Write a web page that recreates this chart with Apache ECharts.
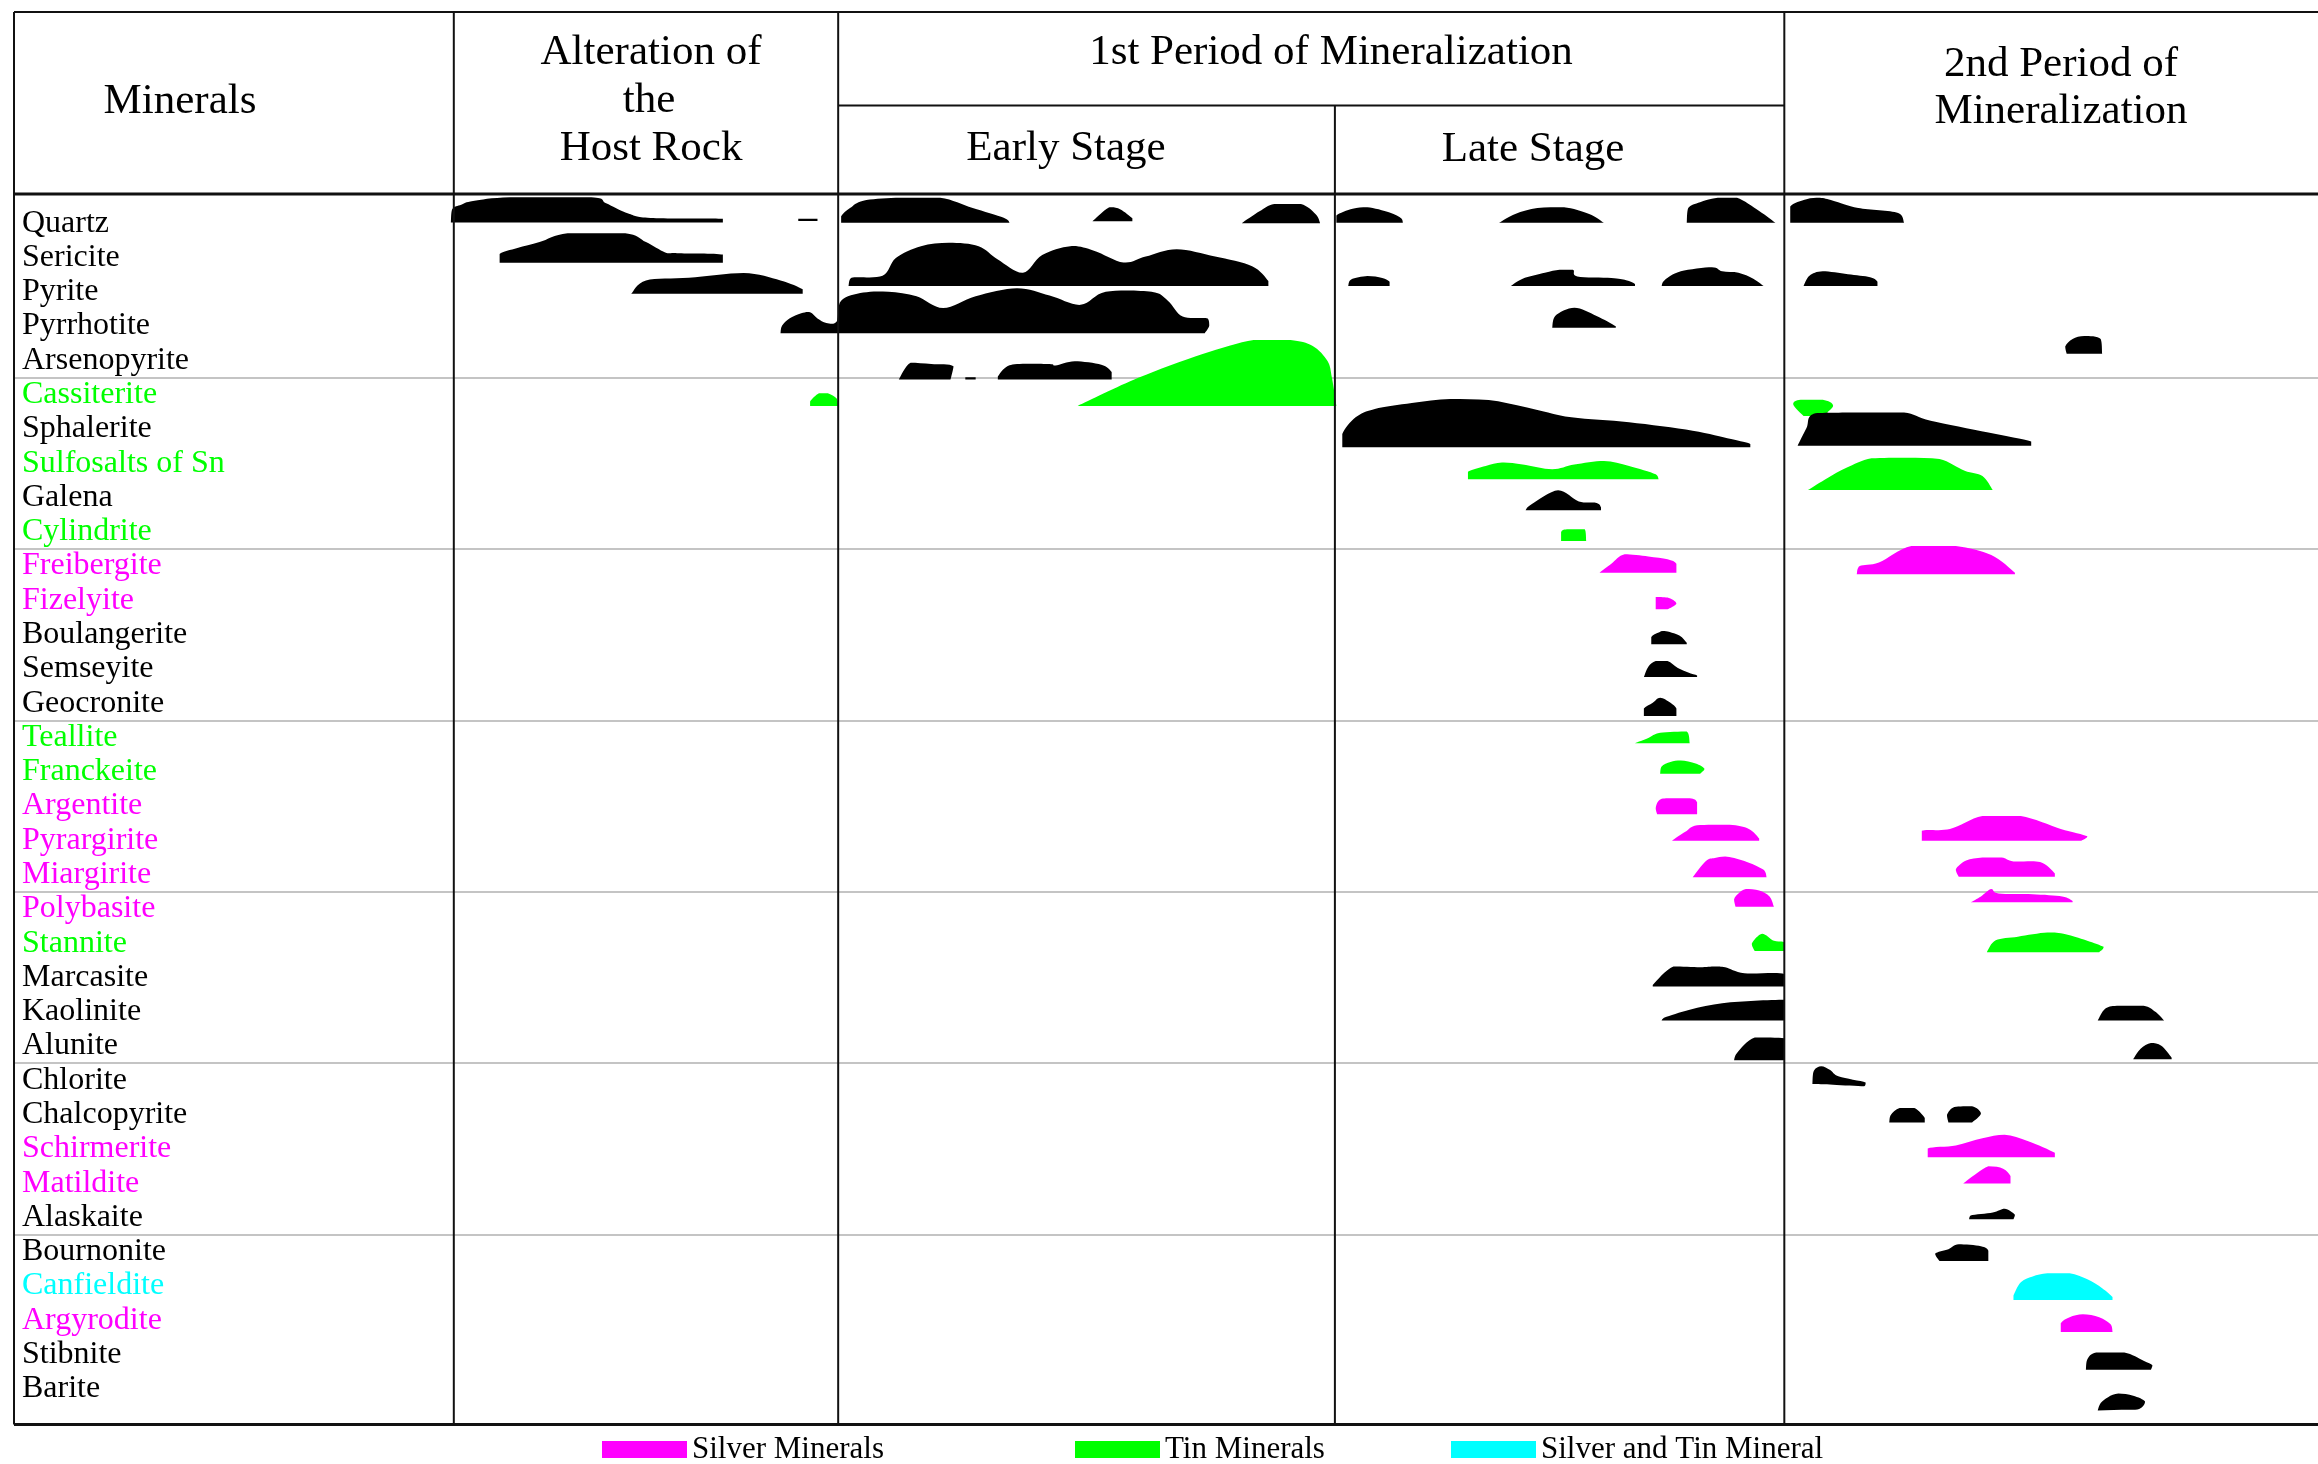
<!DOCTYPE html>
<html>
<head>
<meta charset="utf-8">
<title>Paragenetic sequence</title>
<script src="https://cdn.jsdelivr.net/npm/echarts@6/dist/echarts.min.js"></script>
<style>
  html, body { margin: 0; padding: 0; background: #fff; }
  #chart { width: 2318px; height: 1464px; }
</style>
</head>
<body>
<div id="chart"></div>
<script>
const FONT = '"Liberation Serif", "DejaVu Serif", serif';

// rows of the table
const minerals = ['Quartz', 'Sericite', 'Pyrite', 'Pyrrhotite', 'Arsenopyrite',
  'Cassiterite', 'Sphalerite', 'Sulfosalts of Sn', 'Galena', 'Cylindrite',
  'Freibergite', 'Fizelyite', 'Boulangerite', 'Semseyite', 'Geocronite',
  'Teallite', 'Franckeite', 'Argentite', 'Pyrargirite', 'Miargirite',
  'Polybasite', 'Stannite', 'Marcasite', 'Kaolinite', 'Alunite',
  'Chlorite', 'Chalcopyrite', 'Schirmerite', 'Matildite', 'Alaskaite',
  'Bournonite', 'Canfieldite', 'Argyrodite', 'Stibnite', 'Barite']
const silverMinerals = ['Freibergite', 'Fizelyite', 'Argentite', 'Pyrargirite', 'Miargirite',
  'Polybasite', 'Schirmerite', 'Matildite', 'Argyrodite']
const tinMinerals = ['Cassiterite', 'Sulfosalts of Sn', 'Cylindrite', 'Teallite', 'Franckeite', 'Stannite']
const silverTinMinerals = ['Canfieldite']

// relative time axis, stage boundaries on it
const timeRange = [9.5, 1568]
const stageEdges = [307, 567, 903, 1207]

// one row is 23.2 abundance units
const ROW_UNITS = 23.2

// blobs: [mineral, baseline shift, profile [time, abundance]]
const alterationBlobs = [
  ['Quartz', -0.5, [[305, 0], [306, 9], [312, 12], [320, 14.5], [345, 17], [400, 17], [410, 13], [425, 6], [440, 3], [489, 2.5], [489, 0]]],
  ['Quartz', -1.4, [[540, 0], [540, 1.6], [553, 1.6], [553, 0]]],
  ['Sericite', 3.6, [[338, 0], [338, 6], [350, 10], [365, 14], [384, 20], [423, 20], [437, 14], [450, 7], [458, 6.5], [489, 5.5], [489, 0]]],
  ['Pyrite', 1.4, [[427, 0], [437, 9], [466, 10.8], [503, 14], [528, 9], [543, 3], [543, 0]]],
  ['Pyrrhotite', 4.9, [[528, 0], [529, 5], [534, 10], [542, 13.5], [548, 14.2], [553, 10], [559, 7], [566, 8], [569, 22], [584, 27.5], [601, 28], [620, 25], [638, 17], [660, 25], [688, 30.4], [710, 25.5], [731, 19.2], [748, 28], [779, 28], [790, 22], [800, 11.3], [817, 10], [818, 5], [815, 0]]],
  ['Cassiterite', 7.7, [[548, 0], [548, 3], [554, 8.6], [560, 8.6], [566, 5], [567, 0]]]
]

const earlyBlobs = [
  ['Quartz', -0.2, [[569, 0], [569, 4.5], [575, 10], [584, 15], [606, 17], [636, 17], [658, 10], [679, 3.4], [683, 0]]],
  ['Quartz', -1.3, [[739, 0], [748, 8], [752, 9.5], [758, 8], [766, 2], [766, 0]]],
  ['Quartz', 0, [[840, 0], [852, 8], [862, 13], [880, 13], [890, 6], [893, 0]]],
  ['Pyrite', -3.8, [[574, 0], [576, 5.6], [597, 7], [606, 19], [623, 27], [642, 29.3], [662, 27], [675, 18], [692, 9], [705, 21], [724, 27], [740, 24], [760, 16], [775, 20], [796, 25], [822, 20], [847, 13.5], [858, 3.4], [858, 0]]],
  ['Arsenopyrite', 13, [[608, 0], [616, 11.3], [630, 10.5], [645, 9], [643, 0]]],
  ['Arsenopyrite', 13, [[653, 0], [653, 1.5], [660, 1.5], [660, 0]]],
  ['Arsenopyrite', 13, [[675, 0], [675, 2], [680, 8], [688, 10.5], [710, 10.5], [714, 9.5], [727, 12.4], [745, 10], [752, 5], [752, 0]]],
  ['Cassiterite', 7.7, [[729, 0], [770, 19], [813, 35], [848, 44.7], [873, 44.7], [888, 40.6], [898, 30.4], [901, 19], [904, 0]]]
]

const lateBlobs = [
  ['Quartz', -0.2, [[904, 0], [904, 5], [915, 9.5], [925, 10.5], [940, 7], [948, 3], [949, 0]]],
  ['Quartz', -0.2, [[1014, 0], [1025, 6], [1040, 10], [1058, 10.5], [1075, 6], [1085, 0]]],
  ['Quartz', -0.2, [[1141, 0], [1142, 10], [1150, 14], [1162, 17], [1175, 17], [1190, 8], [1201, 0]]],
  ['Pyrite', -3.8, [[912, 0], [914, 4.5], [925, 6.8], [935, 5.5], [940, 3], [940, 0]]],
  ['Pyrite', -3.8, [[1022, 0], [1030, 5], [1045, 9], [1055, 11], [1064, 11], [1067, 6.5], [1090, 5.5], [1100, 4], [1106, 1.5], [1106, 0]]],
  ['Pyrite', -3.8, [[1124, 0], [1126, 4], [1137, 10], [1158, 12.8], [1165, 10], [1176, 9], [1186, 5], [1193, 0]]],
  ['Pyrrhotite', 1.2, [[1050, 0], [1052, 8], [1065, 13.5], [1080, 8], [1093, 1], [1093, 0]]],
  ['Sphalerite', 12.5, [[908, 0], [908, 9], [917, 20.3], [930, 26], [955, 30], [981, 32.7], [1007, 32], [1033, 27], [1063, 20.3], [1102, 17], [1145, 11.3], [1171, 5.6], [1184, 2.3], [1184, 0]]],
  ['Sulfosalts of Sn', 10.9, [[993, 0], [993, 5], [1005, 9], [1016, 11.3], [1030, 10], [1050, 6.8], [1065, 10], [1085, 12.4], [1102, 9], [1120, 3.4], [1122, 0]]],
  ['Galena', 8.7, [[1032, 0], [1036, 4], [1054, 13.5], [1068, 6], [1080, 5], [1083, 2], [1083, 0]]],
  ['Cylindrite', 6.3, [[1056, 0], [1056, 6], [1060, 7.9], [1072, 7.9], [1073, 0]]],
  ['Freibergite', 4.5, [[1082, 0], [1090, 6], [1099, 12.4], [1115, 11], [1128, 9], [1134, 6], [1134, 0]]],
  ['Fizelyite', 6.1, [[1120, 0], [1120, 8.4], [1128, 8], [1134, 4], [1128, 0]]],
  ['Boulangerite', 6.6, [[1117, 0], [1117, 5], [1122, 8], [1126, 9], [1136, 6], [1141, 1], [1141, 0]]],
  ['Semseyite', 5.5, [[1112, 0], [1115, 7], [1120, 10.8], [1128, 10.8], [1135, 6], [1142, 3], [1148, 1], [1148, 0]]],
  ['Geocronite', 8.7, [[1112, 0], [1112, 5], [1118, 9], [1123, 12.4], [1130, 9], [1134, 5], [1134, 0]]],
  ['Teallite', 3.9, [[1106, 0], [1115, 3.5], [1123, 7], [1141, 7.9], [1143, 0]]],
  ['Franckeite', 1.4, [[1123, 0], [1124, 5], [1130, 8], [1137, 9], [1147, 7], [1153, 3.4], [1150, 0]]],
  ['Argentite', 5.5, [[1121, 0], [1120, 4], [1122, 9], [1127, 10.8], [1143, 10.8], [1148, 8], [1148, 0]]],
  ['Pyrargirite', 0.3, [[1131, 0], [1140, 6], [1148, 10.5], [1170, 10.8], [1183, 8], [1190, 1.5], [1190, 0]]],
  ['Miargirite', 1.8, [[1145, 0], [1154, 11], [1160, 13], [1167, 14], [1180, 11], [1193, 5], [1195, 0]]],
  ['Polybasite', -1.4, [[1174, 0], [1173, 5], [1176, 9], [1181, 12], [1190, 11], [1197, 7], [1200, 0]]],
  ['Stannite', 5.4, [[1187, 0], [1185, 5], [1192, 11.8], [1200, 7], [1207, 6], [1207, 0]]],
  ['Marcasite', 6.1, [[1118, 0], [1118, 1], [1132, 13.5], [1150, 13], [1160, 13.5], [1167, 13], [1180, 9], [1207, 8.5], [1207, 0]]],
  ['Kaolinite', 5.9, [[1124, 0], [1126, 2], [1143, 7.3], [1165, 11.6], [1187, 13.3], [1207, 14], [1207, 0]]],
  ['Alunite', 9.7, [[1173, 0], [1175, 5], [1187, 15.5], [1207, 15], [1207, 0]]]
]

const secondPeriodBlobs = [
  ['Quartz', -0.2, [[1211, 0], [1211, 11], [1222, 16], [1231, 17], [1240, 15], [1257, 10], [1284, 6.7], [1288, 0]]],
  ['Pyrite', -3.8, [[1220, 0], [1224, 7], [1233, 10], [1250, 8], [1265, 6], [1270, 3], [1270, 0]]],
  ['Arsenopyrite', -4.4, [[1398, 0], [1397, 5], [1402, 10], [1410, 12], [1421, 10], [1422, 0]]],
  ['Cassiterite', 14.5, [[1220, 0], [1213, 8], [1218, 11], [1233, 11], [1240, 7], [1233, 0]]],
  ['Sphalerite', 11.5, [[1216, 0], [1222, 12], [1228, 22], [1262, 22.5], [1288, 22.5], [1306, 17], [1345, 9], [1374, 3], [1374, 0]]],
  ['Sulfosalts of Sn', 18.2, [[1223, 0], [1236, 8], [1249, 15], [1266, 21.5], [1290, 21.9], [1312, 21], [1329, 13], [1341, 9.5], [1348, 0]]],
  ['Freibergite', 5.6, [[1256, 0], [1258, 5.6], [1271, 8], [1293, 19.2], [1323, 19.2], [1347, 13], [1363, 1], [1363, 0]]],
  ['Pyrargirite', 0.3, [[1300, 0], [1300, 6.8], [1319, 7.9], [1341, 16.7], [1367, 16.7], [1394, 8], [1412, 3], [1408, 0]]],
  ['Miargirite', 1.5, [[1325, 0], [1323, 5], [1330, 11], [1341, 13], [1354, 13], [1362, 10.4], [1380, 10], [1390, 2.3], [1390, 0]]],
  ['Polybasite', -4.4, [[1333, 0], [1340, 4], [1347, 9], [1352, 6], [1375, 5.5], [1395, 4], [1402, 1], [1402, 0]]],
  ['Stannite', 6.1, [[1344, 0], [1350, 8], [1365, 10.5], [1385, 13.3], [1398, 12], [1423, 3.6], [1420, 0]]],
  ['Kaolinite', 6, [[1419, 0], [1424, 8], [1432, 10.1], [1450, 10.1], [1458, 6], [1464, 0]]],
  ['Alunite', 8.9, [[1443, 0], [1448, 7], [1455, 10.9], [1462, 9], [1469, 1], [1469, 0]]],
  ['Chlorite', 2.5, [[1226, 0.5], [1227, 9], [1232, 12], [1238, 9.5], [1244, 5], [1262, 1], [1261, -1.5], [1240, -0.5], [1226, 0]]],
  ['Chalcopyrite', 5.3, [[1278, 0], [1279, 5], [1285, 9.7], [1295, 9.7], [1302, 3], [1302, 0]]],
  ['Chalcopyrite', 5.3, [[1318, 0], [1317, 5], [1322, 10.5], [1334, 11], [1340, 6], [1334, 0]]],
  ['Schirmerite', 5.7, [[1304, 0], [1304, 6], [1323, 8], [1341, 12.8], [1356, 15.2], [1372, 10.9], [1390, 3], [1390, 0]]],
  ['Matildite', 0.2, [[1328, 0], [1345, 11.6], [1355, 10], [1360, 5], [1360, 0]]],
  ['Alaskaite', 1.2, [[1332, 0], [1333, 2.5], [1348, 4.5], [1356, 7], [1363, 3], [1362, 0]]],
  ['Bournonite', 6.3, [[1312, 0], [1309, 5], [1318, 8], [1325, 11.3], [1340, 10], [1345, 7], [1345, 0]]],
  ['Canfieldite', 9.5, [[1362, 0], [1362, 3], [1367, 12], [1375, 16], [1385, 18.1], [1400, 18.1], [1412, 14], [1422, 8], [1429, 2], [1429, 0]]],
  ['Argyrodite', 8, [[1394, 0], [1394, 6], [1400, 10], [1409, 12], [1420, 10], [1428, 5], [1429, 0]]],
  ['Stibnite', 10.2, [[1411, 0], [1412, 7], [1418, 11.6], [1437, 11.6], [1450, 6], [1456, 3], [1455, 0]]],
  ['Barite', 14.6, [[1419, 0], [1421, 5], [1426, 9], [1433, 11.4], [1443, 10], [1451, 6], [1447, 1], [1435, 0.5]]]
]

const allBlobs = alterationBlobs.concat(earlyBlobs, lateBlobs, secondPeriodBlobs)

const groups = [
  { name: 'Silver Minerals', color: '#ff00ff', members: silverMinerals },
  { name: 'Tin Minerals', color: '#00ff00', members: tinMinerals },
  { name: 'Silver and Tin Mineral', color: '#00ffff', members: silverTinMinerals },
  { name: 'Other minerals', color: '#000000', members: null }
]

function groupOf(name) {
  return groups.find(g => !g.members || g.members.includes(name))
}

// outline through the profile points, baseline closed straight,
// control points kept inside the blob's bounding box
function outline(pts) {
  const n = pts.length
  const xs = pts.map(q => q[0]), ys = pts.map(q => q[1])
  const box = [Math.min(...xs), Math.max(...xs), Math.min(...ys), Math.max(...ys)]
  const fit = q => [Math.max(box[0], Math.min(box[1], q[0])), Math.max(box[2], Math.min(box[3], q[1]))]
  const p = i => pts[Math.max(0, Math.min(n - 1, i))]
  let d = 'M' + pts[0][0] + ',' + pts[0][1]
  for (let i = 0; i < n - 1; i++) {
    const a = p(i - 1), b = p(i), c = p(i + 1), e = p(i + 2)
    const c1 = fit([b[0] + (c[0] - a[0]) / 6, b[1] + (c[1] - a[1]) / 6])
    const c2 = fit([c[0] - (e[0] - b[0]) / 6, c[1] - (e[1] - b[1]) / 6])
    d += 'C' + c1[0] + ',' + c1[1] + ' ' + c2[0] + ',' + c2[1] + ' ' + c[0] + ',' + c[1]
  }
  return d + 'Z'
}

function drawBlobs(list) {
  return function (params, api) {
    const [name, shift, profile] = list[params.dataIndex]
    const row = minerals.indexOf(name)
    const unit = api.size([0, 1])[1] / ROW_UNITS
    const baseY = api.coord([timeRange[0], row])[1] + shift * unit
    const points = profile.map(([t, h]) => [api.coord([t, row])[0], baseY - h * unit])
    return {
      type: 'path',
      shape: { pathData: outline(points) },
      style: { fill: api.visual('color') }
    }
  }
}

const series = groups.map(g => {
  const list = allBlobs.filter(b => groupOf(b[0]) === g)
  return {
    type: 'custom',
    name: g.name,
    silent: true,
    clip: false,
    itemStyle: { color: g.color },
    data: list.map(b => [b[2][0][0], minerals.indexOf(b[0])]),
    renderItem: drawBlobs(list)
  }
})

const legendLeft = [602, 1075, 1451]

const chart = echarts.init(document.getElementById('chart'))
chart.setOption({
  animation: false,
  backgroundColor: '#fff',
  grid: { left: 14, right: 0, top: 206, bottom: 58 },
  xAxis: { type: 'value', min: timeRange[0], max: timeRange[1], show: false },
  yAxis: {
    type: 'category',
    inverse: true,
    data: minerals,
    axisLine: { show: false },
    axisTick: { show: false },
    axisLabel: {
      inside: true,
      margin: 8,
      interval: 0,
      fontFamily: FONT,
      fontSize: 32,
      color: (value) => groupOf(value).color
    },
    splitLine: {
      show: true,
      showMaxLine: false,
      interval: (i) => i > 0 && i < minerals.length && i % 5 === 0,
      lineStyle: { color: '#c4c4c4', width: 2 }
    }
  },
  legend: groups.slice(0, 3).map((g, i) => ({
    data: [g.name],
    left: legendLeft[i],
    top: 1434,
    padding: 0,
    icon: 'rect',
    itemWidth: 85,
    itemHeight: 17,
    selectedMode: false,
    textStyle: { fontFamily: FONT, fontSize: 31, color: '#000' }
  })),
  series
})

// table frame and headings, columns follow the time axis
const xPx = t => chart.convertToPixel({ xAxisIndex: 0 }, t)
const [colMin, colAlt, colLate, colSecond] = stageEdges.map(xPx)
const LEFT = 14, RIGHT = 2318, TOP = 12, SUB = 105.5, HEAD = 194, BOTTOM = 1424.5

function rule(x1, y1, x2, y2, w) {
  return { type: 'line', silent: true, z: 100, shape: { x1, y1, x2, y2 }, style: { stroke: '#111', lineWidth: w } }
}
function heading(text, x, y) {
  return {
    type: 'text', silent: true, z: 100, x, y,
    style: {
      text, fill: '#000', font: '43px ' + FONT,
      align: 'center', verticalAlign: 'middle',
      textAlign: 'center', textVerticalAlign: 'middle'
    }
  }
}

chart.setOption({
  graphic: [
    rule(LEFT, TOP, RIGHT, TOP, 2),
    rule(LEFT, HEAD, RIGHT, HEAD, 3),
    rule(LEFT, BOTTOM, RIGHT, BOTTOM, 3),
    rule(colAlt, SUB, colSecond, SUB, 2),
    rule(LEFT, TOP, LEFT, BOTTOM, 2),
    rule(colMin, TOP, colMin, BOTTOM, 2),
    rule(colAlt, TOP, colAlt, BOTTOM, 2),
    rule(colLate, SUB, colLate, BOTTOM, 2),
    rule(colSecond, TOP, colSecond, BOTTOM, 2),
    heading('Minerals', 180, 102),
    heading('Alteration of', 651, 53),
    heading('the', 649, 101),
    heading('Host Rock', 651, 149),
    heading('1st Period of Mineralization', 1331, 53),
    heading('Early Stage', 1066, 149),
    heading('Late Stage', 1533, 150),
    heading('2nd Period of', 2061, 65),
    heading('Mineralization', 2061, 112)
  ]
})
</script>
</body>
</html>
